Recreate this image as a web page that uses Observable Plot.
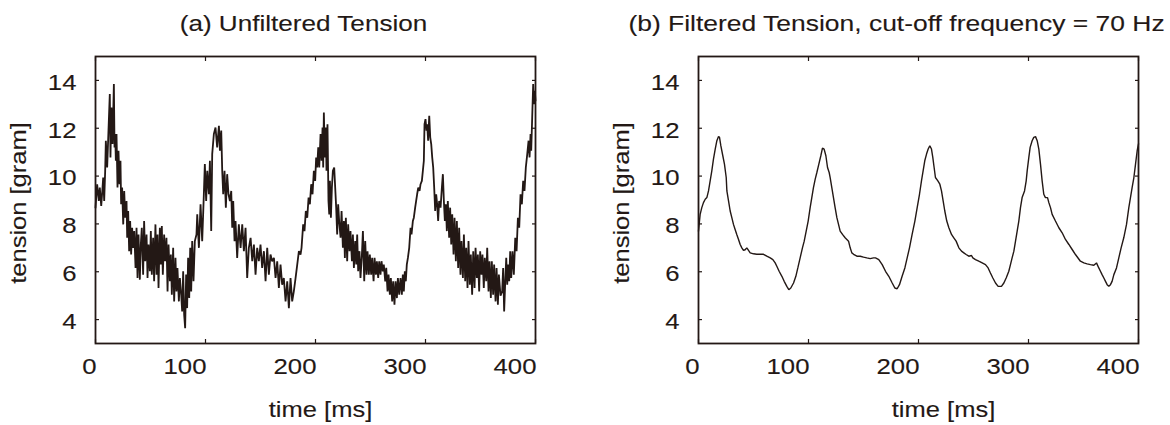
<!DOCTYPE html>
<html><head><meta charset="utf-8">
<script src="https://cdn.jsdelivr.net/npm/d3@7"></script>
<script src="https://cdn.jsdelivr.net/npm/@observablehq/plot@0.6"></script>
<style>
body{margin:0;background:#fff;}
#wrap{position:relative;width:1170px;height:425px;overflow:hidden;background:#fff;}
.panel{position:absolute;top:0;width:585px;height:425px;}
</style></head><body><div id="wrap"><div class="panel" id="pa" style="left:0"></div><div class="panel" id="pb" style="left:585px"></div></div>
<script>
const xTicks = [0, 100, 200, 300, 400];
const yTicks = [4, 6, 8, 10, 12, 14];
const titleA = "(a) Unfiltered Tension";
const titleB = "(b) Filtered Tension, cut-off frequency = 70 Hz";
const xLabel = "time [ms]";
const yLabel = "tension [gram]";

// (a) unfiltered tension: time [ms], tension [gram]
const rawTime = [0,1.5,3.0,3.9,5.2,6.4,7.0,7.9,8.8,9.4,10.6,11.8,13.0,13.6,14.5,15.5,16.7,17.3,17.9,18.5,19.1,20.0,20.9,21.8,22.7,23.3,24.2,25.2,26.1,27.0,28.2,28.8,29.7,30.6,31.5,32.4,33.3,34.2,35.2,36.4,37.3,38.2,39.1,40.3,41.2,42.1,43.3,44.2,45.2,46.4,47.3,48.2,49.4,50.3,51.2,52.4,53.3,54.5,55.5,56.4,57.3,58.5,59.4,60.3,61.2,62.4,63.3,64.5,65.5,66.4,67.6,68.5,69.4,70.6,71.5,72.7,73.6,74.5,75.8,76.7,77.9,78.8,79.7,80.6,81.5,82.4,83.3,84.2,85.2,86.1,87.0,87.9,89.1,90.3,91.8,
92.5,94.0,95.5,97.0,98.5,99.4,100.6,101.6,103.1,104.0,105.2,106.1,107.6,109.1,110.6,112.2,113.1,114.3,115.2,116.1,117.3,118.5,119.7,120.9,122.2,123.4,124.3,125.2,126.4,127.3,128.8,130.3,131.9,133.4,134.9,136.4,137.9,139.4,141.0,142.5,144.0,145.5,147.0,148.5,150.0,151.5,153.1,154.6,156.1,157.6,159.1,160.6,162.2,163.7,165.2,166.7,168.2,169.7,171.2,172.8,174.3,175.8,177.3,178.8,180.3,181.9,183.4,184.9,186.4,
187.3,188.8,190.0,191.2,192.5,193.7,194.9,196.1,197.3,198.5,199.7,200.6,201.5,202.5,203.4,204.6,205.5,206.4,207.0,207.6,208.5,209.4,210.0,210.9,211.8,212.5,213.1,214.0,214.9,215.8,217.0,217.9,218.8,219.7,220.6,221.5,222.8,223.7,224.9,225.8,226.7,227.6,228.8,229.7,230.9,231.8,233.1,234.0,234.9,236.1,237.0,237.9,238.8,240.0,240.9,242.2,243.1,244.3,245.2,246.4,247.3,248.5,249.4,250.6,251.5,252.8,253.7,254.9,255.8,257.0,257.9,259.1,260.0,261.2,262.1,263.4,264.3,265.5,266.4,267.6,268.5,269.7,270.6,271.8,272.8,274.0,274.9,276.1,277.3,
278.5,279.4,280.3,281.2,282.1,283.0,284.0,285.2,286.4,287.3,288.5,289.4,290.6,291.5,292.4,293.4,294.6,295.5,296.7,297.6,298.5,299.1,300.0,300.9,301.5,302.4,303.4,304.3,305.2,306.1,307.0,307.9,308.8,309.7,310.6,311.5,312.4,313.7,314.9,315.8,316.7,317.6,318.5,319.4,320.3,321.5,322.4,323.4,324.3,325.5,326.4,327.6,328.5,329.7,330.6,331.8,332.7,334.0,334.9,336.1,337.0,338.2,339.1,340.3,341.2,342.4,343.4,344.6,345.5,346.7,347.6,348.8,349.7,350.9,351.8,353.0,353.9,355.2,356.1,357.3,358.2,359.4,360.3,361.5,362.4,363.7,364.6,365.8,366.7,368.2,
369.7,370.6,371.5,372.5,373.4,374.3,375.2,376.1,377.0,377.9,379.1,380.3,381.6,382.8,384.0,385.2,386.4,387.6,388.8,390.0,391.2,392.5,393.7,394.6,395.5,396.1,397.0,397.9,398.8,399.4,400.0];
const rawTension = [8.68,9.66,8.96,9.52,8.75,9.52,9.94,8.96,10.22,11.48,10.36,11.90,13.43,10.78,12.87,11.34,13.85,11.20,11.76,10.64,11.76,9.52,11.06,9.66,10.64,8.82,9.52,7.98,9.38,8.26,8.96,7.42,8.54,6.86,8.12,6.72,7.84,7.00,7.70,6.16,7.84,5.74,7.56,5.67,7.14,7.84,5.88,8.12,6.44,7.56,5.74,7.14,6.02,7.70,5.88,7.42,5.60,7.98,5.88,7.56,5.32,7.84,6.30,7.91,5.88,7.56,6.44,7.42,5.18,7.14,5.60,6.72,5.04,7.00,4.76,6.58,5.18,6.16,4.76,5.74,5.04,4.34,6.02,4.20,3.64,5.88,4.48,6.58,4.90,7.00,5.18,7.28,5.60,7.28,7.56,
8.40,7.00,8.82,7.28,9.24,10.50,8.96,10.22,9.24,10.64,7.70,10.92,11.76,12.03,11.20,12.10,11.06,11.90,10.22,9.24,10.22,8.68,10.08,9.24,8.96,9.38,7.84,8.96,7.28,8.12,6.58,7.98,7.00,7.98,6.86,7.84,5.74,7.00,7.42,6.44,7.14,5.88,7.00,6.44,7.14,6.16,6.86,5.60,7.00,5.88,6.72,6.44,6.58,5.74,6.44,5.32,6.30,5.46,5.74,4.76,5.60,4.48,5.74,4.76,5.18,5.74,6.30,6.86,6.72,
7.00,7.98,7.70,8.54,8.26,9.10,8.82,9.66,9.24,10.22,9.80,10.78,10.36,11.20,10.36,11.76,10.64,12.03,10.36,12.66,10.78,12.03,10.22,12.17,8.96,8.40,9.80,8.26,9.52,10.22,10.36,9.52,8.68,7.56,8.82,8.12,7.42,8.54,7.00,8.12,6.58,8.26,6.44,7.98,6.86,7.70,6.44,7.56,6.16,7.28,6.30,7.56,6.02,6.86,5.74,6.72,7.70,5.60,7.28,5.88,6.86,5.88,6.72,5.88,6.58,5.60,6.58,5.88,6.44,5.74,6.44,5.88,6.44,6.02,6.30,5.60,6.16,5.18,5.88,5.04,5.74,4.76,5.60,4.62,5.60,4.90,5.74,5.04,5.74,
5.04,5.88,5.18,6.02,5.60,6.30,6.58,7.00,7.84,7.56,8.12,8.26,8.68,8.96,9.24,9.52,9.38,9.66,9.80,10.22,10.64,12.17,12.38,11.90,12.17,11.48,12.52,11.62,11.34,10.78,10.36,9.52,8.54,9.24,8.82,8.12,8.96,8.68,9.52,10.08,8.96,8.12,8.82,7.70,8.96,7.42,8.68,7.14,8.40,6.72,8.26,6.44,8.12,6.16,7.84,5.88,7.28,5.74,7.56,5.60,7.00,5.32,7.28,5.46,6.72,5.04,6.86,5.32,7.00,5.74,6.72,5.18,6.86,5.88,6.72,5.32,6.58,5.60,7.00,5.18,6.44,4.90,6.44,5.04,6.30,4.76,6.16,4.62,5.88,5.00,
5.18,6.16,4.34,5.60,6.58,5.46,6.30,5.60,6.86,5.74,6.86,5.88,7.42,6.86,8.26,7.84,9.24,8.82,9.80,9.38,10.36,10.92,11.48,10.78,11.76,11.06,12.45,13.85,13.01,13.57,13.15];

// (b) filtered tension: time [ms], tension [gram]
const filtTime = [0,0.6,1.5,3.0,4.5,6.1,7.6,9.1,10.6,12.1,13.6,15.2,16.7,18.2,19.1,20.3,22.1,23.6,25.2,25.8,27.3,28.8,30.3,31.8,33.3,34.8,36.4,37.9,39.4,40.9,42.4,43.9,45.5,47.0,50.0,53.0,56.1,59.1,62.1,65.2,67.6,69.7,71.2,73.3,75.8,77.9,80.3,82.1,83.9,86.4,88.5,90.3,92.4,94.5,96.1,97.9,99.7,101.5,103.0,104.5,106.1,107.6,109.4,111.2,112.7,114.2,115.8,117.3,118.8,119.7,121.2,122.7,124.2,125.8,127.3,128.8,130.9,133.3,136.4,137.9,139.4,141.0,144.0,147.0,150.0,153.0,156.1,159.1,
160.9,163.9,167.0,170.0,173.0,176.1,178.5,180.6,182.7,185.1,187.6,189.7,191.8,194.2,196.7,198.8,200.9,202.7,204.2,205.7,207.3,208.8,210.3,211.8,213.0,214.2,215.4,217.6,219.4,220.9,222.4,223.9,225.7,227.6,230.0,232.1,234.2,236.7,239.1,241.2,243.3,245.7,248.2,249.4,251.8,254.8,257.9,260.9,263.3,265.4,267.6,270.0,272.4,275.4,277.6,279.7,282.1,283.6,285.1,286.7,288.2,289.7,291.2,292.7,294.2,296.4,297.9,298.8,300.3,301.5,303.3,304.8,306.4,307.9,309.4,310.9,312.4,313.9,315.4,317.3,318.5,320.0,321.5,324.5,327.6,330.6,333.6,336.7,339.7,342.7,
347.2,350.3,353.3,356.3,359.4,361.8,363.9,365.4,366.9,368.5,370.0,371.5,373.0,374.5,376.0,377.6,380.0,382.1,384.2,386.6,389.1,391.2,392.7,394.2,395.8,397.3,398.8,400.0];
const filtTension = [7.70,7.98,8.40,8.68,8.89,9.03,9.10,9.38,9.80,10.22,10.71,11.13,11.48,11.66,11.62,11.27,10.85,10.50,9.94,9.38,8.96,8.54,8.26,7.98,7.77,7.56,7.35,7.14,7.00,6.89,6.92,7.00,6.89,6.79,6.75,6.73,6.73,6.73,6.65,6.58,6.51,6.37,6.23,6.02,5.81,5.60,5.39,5.25,5.32,5.53,5.81,6.16,6.58,7.00,7.28,7.70,8.12,8.68,9.10,9.52,9.87,10.15,10.50,10.85,11.17,11.13,10.85,10.36,10.15,9.94,9.52,9.10,8.68,8.26,7.98,7.70,7.56,7.42,7.28,7.00,6.79,6.73,6.65,6.65,6.61,6.58,6.55,6.58,
6.58,6.51,6.30,6.02,5.81,5.53,5.32,5.29,5.46,5.81,6.16,6.58,7.00,7.56,8.12,8.68,9.24,9.80,10.22,10.64,10.92,11.13,11.27,11.13,10.78,10.36,9.94,9.80,9.66,9.38,8.96,8.54,8.12,7.84,7.56,7.42,7.28,7.00,6.86,6.79,6.72,6.65,6.68,6.58,6.51,6.44,6.37,6.30,6.16,5.95,5.74,5.53,5.39,5.39,5.53,5.74,6.02,6.30,6.58,6.86,7.28,7.70,8.12,8.68,9.10,9.38,9.80,10.22,10.78,11.20,11.48,11.62,11.65,11.48,11.13,10.50,9.80,9.24,9.10,9.10,8.89,8.68,8.40,8.12,7.84,7.63,7.35,7.14,6.93,6.72,
6.44,6.37,6.33,6.30,6.27,6.37,6.16,6.02,5.88,5.74,5.60,5.46,5.39,5.46,5.60,5.88,6.16,6.58,7.00,7.42,7.98,8.68,9.10,9.52,9.94,10.50,11.06,11.35];

const INK = "#231815";
const FONT = "'Liberation Sans', Arial, Helvetica, sans-serif";

// widen glyphs along the text direction (the reference face is broader than Arial)
function widenText(svg) {
  svg.querySelectorAll("text").forEach(t => {
    const g = t.closest("g[aria-label]");
    const lab = g ? g.getAttribute("aria-label") : "";
    const s = lab.includes("tick label") ? 1.12 : 1.16;
    const x = +(t.getAttribute("x") || 0);
    if (x) t.setAttribute("x", x / s);
    const tr = t.getAttribute("transform") || "";
    t.setAttribute("transform", (tr + ` scale(${s},1)`).trim());
    t.style.stroke = INK;
    t.style.strokeWidth = "0.12px";
    t.style.paintOrder = "stroke";
  });
  return svg;
}

function panel({time, tension, title, marginLeft, marginRight, lineWidth, titleDx, xLabelDx, titleSize}) {
  const data = time.map((t, i) => ({t, v: tension[i]}));
  const svg = Plot.plot({
    width: 585, height: 425,
    marginLeft, marginRight, marginTop: 56, marginBottom: 82,
    style: `font-family: ${FONT}; font-size: 23px; color: ${INK}; background: #fff;`,
    x: {domain: [0, 400]},
    y: {domain: [3, 15]},
    marks: [
      Plot.lineY(data, {x: "t", y: "v", stroke: INK, strokeWidth: lineWidth, strokeLinejoin: "miter"}),
      Plot.frame({stroke: INK, strokeWidth: 1.8}),
      Plot.axisX(xTicks, {anchor: "bottom", tickSize: -4, tickFormat: () => "", label: null, strokeWidth: 1.2}),
      Plot.axisX(xTicks, {anchor: "top", tickSize: -4, tickFormat: () => "", label: null, strokeWidth: 1.2}),
      Plot.axisY(yTicks, {anchor: "left", tickSize: -4, tickFormat: () => "", label: null, strokeWidth: 1.2}),
      Plot.axisY(yTicks, {anchor: "right", tickSize: -4, tickFormat: () => "", label: null, strokeWidth: 1.2}),
      Plot.axisX(xTicks, {anchor: "bottom", tickSize: 0, tickPadding: 14, textAnchor: "end", dx: 1, label: null, fontSize: 23}),
      Plot.axisY(yTicks, {anchor: "left", tickSize: 0, tickPadding: 19, dy: 2, label: null, fontSize: 23}),
      Plot.text([title], {frameAnchor: "top", dy: -33, dx: titleDx, textAnchor: "middle", lineAnchor: "middle", fontSize: titleSize}),
      Plot.text([xLabel], {frameAnchor: "bottom", dy: 66, dx: xLabelDx, textAnchor: "middle", lineAnchor: "middle", fontSize: 22}),
      Plot.text([yLabel], {frameAnchor: "left", dx: -77, dy: 3, rotate: -90, textAnchor: "middle", lineAnchor: "middle", fontSize: 22})
    ]
  });
  return widenText(svg);
}

document.getElementById("pa").append(panel({
  time: rawTime, tension: rawTension, title: titleA,
  marginLeft: 95, marginRight: 50, lineWidth: 1.8, titleDx: -12, xLabelDx: 5, titleSize: 22.5
}));
document.getElementById("pb").append(panel({
  time: filtTime, tension: filtTension, title: titleB,
  marginLeft: 113, marginRight: 32, lineWidth: 1.4, titleDx: -22, xLabelDx: 25, titleSize: 22.8
}));
</script>
</body></html>
